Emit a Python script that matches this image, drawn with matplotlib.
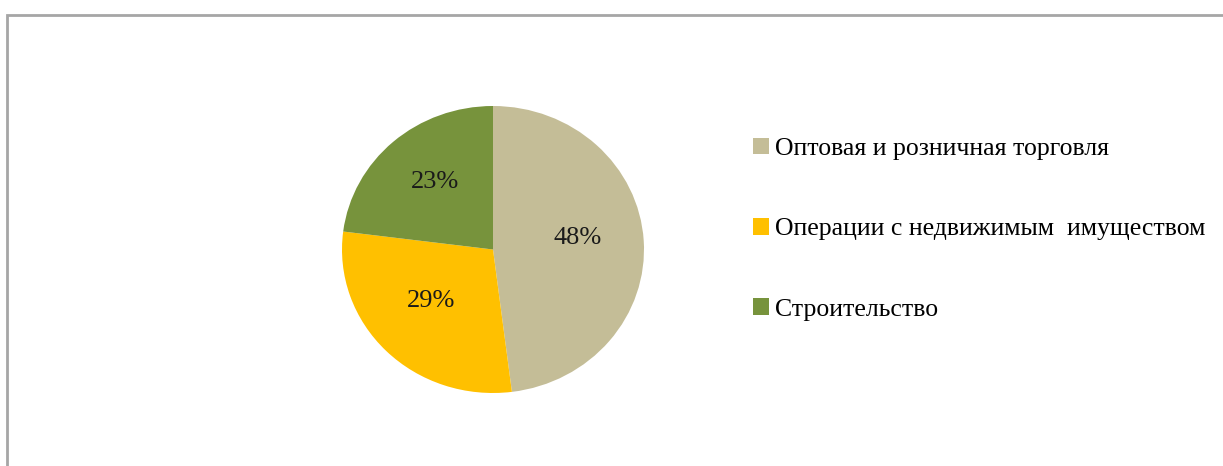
import matplotlib
matplotlib.use("Agg")
import matplotlib.pyplot as plt
from matplotlib.patches import Rectangle
from matplotlib.transforms import offset_copy

# Data
labels = ["Оптовая и розничная торговля",
          "Операции с недвижимым  имуществом",
          "Строительство"]
shares = [48, 29, 23]
colors = ["#C4BD97", "#FFC000", "#77933C"]

plt.rcParams["font.family"] = ["Liberation Serif", "DejaVu Serif"]

W, H = 1223, 466
fig = plt.figure(figsize=(W / 100, H / 100), dpi=100)

# outer chart border (runs off the right and bottom edges)
fig.patches.append(Rectangle((7 / W, -0.1), 1.2, 1 - 15 / H + 0.1,
                             transform=fig.transFigure, fill=False,
                             edgecolor="#A6A6A6", linewidth=2))

# pie axes sized in pixels (pie is slightly wider than tall)
ax = fig.add_axes([342 / W, (H - 393) / H, 302 / W, 287 / H])
wedges, texts, autotexts = ax.pie(
    shares, colors=colors, startangle=90, counterclock=False,
    autopct="%d%%", pctdistance=0.57,
    wedgeprops={"linewidth": 0},
    textprops={"fontsize": 19, "color": "#1a1a1a"})
for t in autotexts:
    t.set_transform(offset_copy(ax.transData, fig=fig, x=-1, y=6, units="dots"))
ax.set_aspect("auto")
ax.set_xlim(-1, 1)
ax.set_ylim(-1, 1)

fig.legend(wedges, labels, loc="upper left",
           bbox_to_anchor=(740 / W, 1 - 125 / H),
           frameon=False, fontsize=18.5, handlelength=0.62, handleheight=0.62,
           handletextpad=0.25, labelspacing=2.25, borderpad=0)

fig.savefig("out.png", dpi=100)
